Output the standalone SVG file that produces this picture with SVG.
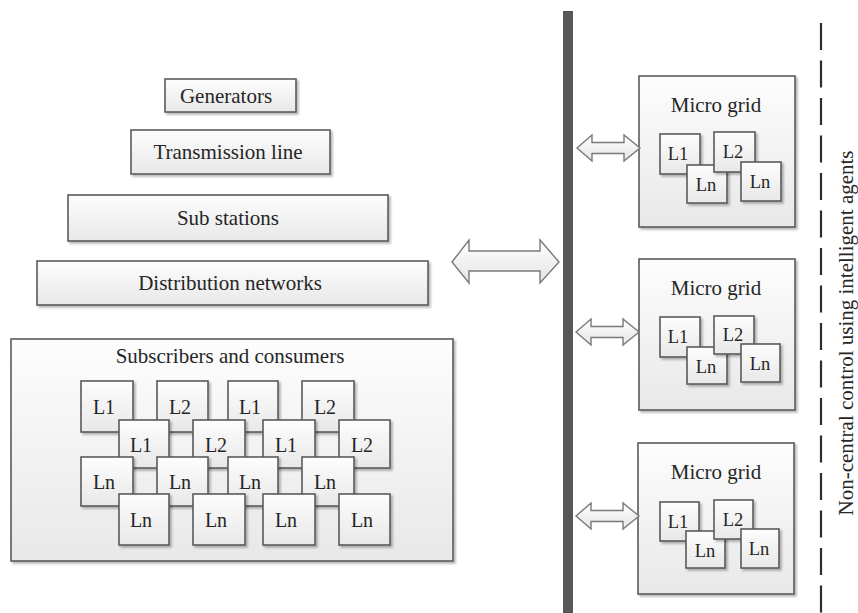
<svg xmlns="http://www.w3.org/2000/svg" xmlns:xlink="http://www.w3.org/1999/xlink" width="858" height="613" viewBox="0 0 858 613">
  <defs>
    <linearGradient id="boxFill" x1="0" y1="0" x2="0" y2="1">
      <stop offset="0" stop-color="#fdfdfd"/>
      <stop offset="1" stop-color="#e8e8e8"/>
    </linearGradient>
    <linearGradient id="arrowFill" x1="0" y1="0" x2="0" y2="1">
      <stop offset="0" stop-color="#ffffff"/>
      <stop offset="1" stop-color="#e4e4e4"/>
    </linearGradient>
    <filter id="shadow" x="-10%" y="-10%" width="130%" height="130%">
      <feDropShadow dx="2" dy="2" stdDeviation="1.2" flood-color="#000" flood-opacity="0.28"/>
    </filter>
    <path id="smallArrow" d="M0,0 L15,-13 L15,-5.5 L47,-5.5 L47,-13 L63,0 L47,13 L47,5.5 L15,5.5 L15,13 Z"/>
  </defs>
  <style>
    .box { fill: url(#boxFill); stroke: #5a5a5a; stroke-width: 1.6; filter: url(#shadow); }
    .arrow { fill: url(#arrowFill); stroke: #7a7a7a; stroke-width: 1.4; stroke-linejoin: miter; }
    text { font-family: "Liberation Serif", "Times New Roman", Times, Tinos, "Nimbus Roman", "Noto Serif", "DejaVu Serif", FreeSerif, serif; fill: #262626; text-anchor: middle; }
    .lbl { font-size: 21px; }
    .sl { font-size: 20px; }
    .ml { font-size: 18.5px; }
  </style>
  <rect width="858" height="613" fill="#ffffff"/>

  <!-- Hierarchy -->
  <g id="generators">
    <rect class="box" x="165" y="79" width="131" height="33"/>
    <text class="lbl" x="226" y="103">Generators</text>
  </g>
  <g id="transmission-line">
    <rect class="box" x="131" y="130" width="199" height="44"/>
    <text class="lbl" x="228" y="159">Transmission line</text>
  </g>
  <g id="sub-stations">
    <rect class="box" x="68" y="195" width="320" height="46"/>
    <text class="lbl" x="228" y="225">Sub stations</text>
  </g>
  <g id="distribution-networks">
    <rect class="box" x="37" y="261" width="391" height="44"/>
    <text class="lbl" x="230" y="290">Distribution networks</text>
  </g>

  <!-- Subscribers and consumers -->
  <g id="subscribers">
    <rect class="box" x="11" y="339" width="442" height="222"/>
    <text class="lbl" x="230" y="363">Subscribers and consumers</text>
    <g id="sub-row1">
      <rect class="box" x="81" y="381" width="52" height="51"/><text class="sl" x="104" y="414">L1</text>
      <rect class="box" x="157" y="381" width="51" height="51"/><text class="sl" x="180" y="414">L2</text>
      <rect class="box" x="228" y="381" width="50" height="51"/><text class="sl" x="250" y="414">L1</text>
      <rect class="box" x="302" y="381" width="52" height="51"/><text class="sl" x="325" y="414">L2</text>
    </g>
    <g id="sub-row2">
      <rect class="box" x="119" y="420" width="50" height="48"/><text class="sl" x="141" y="452">L1</text>
      <rect class="box" x="193" y="420" width="52" height="48"/><text class="sl" x="216" y="452">L2</text>
      <rect class="box" x="263" y="420" width="52" height="48"/><text class="sl" x="286" y="452">L1</text>
      <rect class="box" x="339" y="420" width="51" height="48"/><text class="sl" x="362" y="452">L2</text>
    </g>
    <g id="sub-row3">
      <rect class="box" x="81" y="457" width="52" height="49"/><text class="sl" x="104" y="489">Ln</text>
      <rect class="box" x="157" y="457" width="51" height="49"/><text class="sl" x="180" y="489">Ln</text>
      <rect class="box" x="228" y="457" width="50" height="49"/><text class="sl" x="250" y="489">Ln</text>
      <rect class="box" x="302" y="457" width="52" height="49"/><text class="sl" x="325" y="489">Ln</text>
    </g>
    <g id="sub-row4">
      <rect class="box" x="119" y="494" width="50" height="51"/><text class="sl" x="141" y="527">Ln</text>
      <rect class="box" x="193" y="494" width="52" height="51"/><text class="sl" x="216" y="527">Ln</text>
      <rect class="box" x="263" y="494" width="52" height="51"/><text class="sl" x="286" y="527">Ln</text>
      <rect class="box" x="339" y="494" width="51" height="51"/><text class="sl" x="362" y="527">Ln</text>
    </g>
  </g>

  <!-- Bus bar -->
  <g id="bus">
    <rect x="563" y="11" width="10" height="602" fill="#575757"/>
  </g>

  <!-- Micro grids -->
  <g id="micro-grid-1">
    <rect class="box" x="639" y="76" width="156" height="151"/>
    <text class="lbl" x="716" y="112">Micro grid</text>
    <rect class="box" x="660" y="134" width="40" height="40"/><text class="ml" x="678" y="160">L1</text>
    <rect class="box" x="687" y="165" width="40" height="38"/><text class="ml" x="706" y="191">Ln</text>
    <rect class="box" x="714" y="132" width="41" height="40"/><text class="ml" x="733" y="158">L2</text>
    <rect class="box" x="741" y="162" width="40" height="39"/><text class="ml" x="760" y="188">Ln</text>
  </g>
  <g id="micro-grid-2">
    <rect class="box" x="639" y="259" width="156" height="151"/>
    <text class="lbl" x="716" y="295">Micro grid</text>
    <rect class="box" x="660" y="317" width="40" height="40"/><text class="ml" x="678" y="343">L1</text>
    <rect class="box" x="687" y="347" width="40" height="37"/><text class="ml" x="706" y="373">Ln</text>
    <rect class="box" x="714" y="316" width="40" height="38"/><text class="ml" x="733" y="341">L2</text>
    <rect class="box" x="741" y="344" width="39" height="38"/><text class="ml" x="760" y="370">Ln</text>
  </g>
  <g id="micro-grid-3">
    <rect class="box" x="638" y="443" width="156" height="151"/>
    <text class="lbl" x="716" y="479">Micro grid</text>
    <rect class="box" x="660" y="502" width="39" height="39"/><text class="ml" x="678" y="528">L1</text>
    <rect class="box" x="686" y="531" width="39" height="37"/><text class="ml" x="705" y="557">Ln</text>
    <rect class="box" x="714" y="500" width="39" height="39"/><text class="ml" x="733" y="526">L2</text>
    <rect class="box" x="741" y="529" width="38" height="39"/><text class="ml" x="759" y="555">Ln</text>
  </g>

  <!-- Connectors -->
  <g id="connectors">
    <path class="arrow" d="M452,262 L469,240 L469,251 L540,251 L540,240 L559,262 L540,283 L540,271 L469,271 L469,283 Z"/>
    <use xlink:href="#smallArrow" class="arrow" transform="translate(577,148)"/>
    <use xlink:href="#smallArrow" class="arrow" transform="translate(576,332)"/>
    <use xlink:href="#smallArrow" class="arrow" transform="translate(576,516)"/>
  </g>

  <!-- Divider and side label -->
  <g id="divider">
    <line x1="821" y1="23" x2="821" y2="613" stroke="#2e2e2e" stroke-width="2.2" stroke-dasharray="27 10.5"/>
    <text class="lbl" transform="translate(853,333) rotate(-90)" x="0" y="0">Non-central control using intelligent agents</text>
  </g>
</svg>
